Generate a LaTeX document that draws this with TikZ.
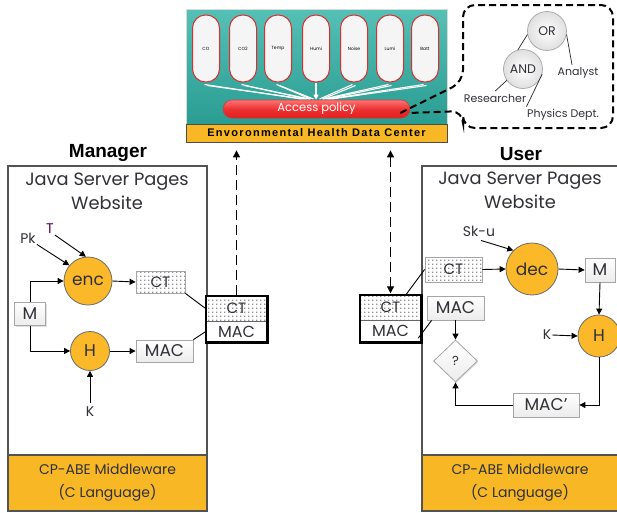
\documentclass[tikz,border=0pt]{standalone}
\usepackage{fontspec}
\setmainfont{Poppins}
\newfontfamily\arialb{Liberation Sans}
\newfontfamily\arialwide[LetterSpace=12]{Liberation Sans}
\usetikzlibrary{arrows.meta,shapes.geometric,patterns,shadows,calc}
\pgfdeclarepatternformonly{bigdots}{\pgfpointorigin}{\pgfpoint{4pt}{4pt}}{\pgfpoint{4pt}{4pt}}{\pgfpathcircle{\pgfpoint{1pt}{1pt}}{0.75pt}\pgfusepath{fill}}
\definecolor{circfill}{HTML}{FBB829}
\definecolor{ybar}{HTML}{F8B825}
\definecolor{tealA}{HTML}{55C0B6}
\definecolor{tealB}{HTML}{23978C}
\definecolor{txt}{HTML}{303038}
\definecolor{pillred}{HTML}{D83030}
\definecolor{apred}{HTML}{E81C1C}
\begin{document}
\begin{tikzpicture}[x=1pt,y=-1pt,
  circ/.style={circle, draw=gray!85!black, line width=0.8pt, fill=circfill, inner sep=0pt, text=txt},
  gbox/.style={draw=gray!70, top color=white, bottom color=gray!15, line width=0.8pt, inner sep=0pt, text=txt,
    drop shadow={opacity=0.25, shadow xshift=1pt, shadow yshift=-1pt}},
  dotbox/.style={draw=gray!70, line width=0.8pt, preaction={fill=white}, pattern=bigdots, pattern color=black!85, inner sep=0pt, text=txt},
  arr/.style={-{Triangle[length=6pt,width=6pt]}, line width=0.9pt},
  ln/.style={line width=0.9pt},
  panel/.style={draw=gray!65!black, line width=1.1pt, fill=white, inner sep=0pt},
  ybox/.style={draw=gray!65!black, line width=1.1pt, fill=ybar, inner sep=0pt},
  lbl/.style={text=txt, inner sep=1pt},
  pill/.style={draw=pillred, line width=1pt, fill=gray!8, rounded corners=13pt, minimum width=27pt, minimum height=67pt, inner sep=0pt, font=\fontsize{4.5}{5}\selectfont},
  tcirc/.style={circle, draw=gray!70, line width=0.7pt, inner color=white, outer color=gray!25, minimum size=39pt, inner sep=0pt, font=\fontsize{12.5}{14}\selectfont, text=txt},
  tlab/.style={text=txt, inner sep=0.5pt, font=\fontsize{11}{13}\selectfont},
  wl/.style={draw=white, line width=1.1pt},
  callout/.style={line width=2pt, dash pattern=on 7pt off 4pt},
  cmbback/.style={draw=none, fill=white, inner sep=0pt, drop shadow={opacity=0.4, shadow xshift=1.5pt, shadow yshift=-1.5pt, fill=gray}},
]
\useasboundingbox (0,0) rectangle (617,512);

% ---------- Data center ----------
\node[draw=gray!30, line width=1pt, top color=tealA, bottom color=tealB, minimum width=261pt, minimum height=133pt, inner sep=0pt] (dc) at (316.5,75.5) {};
\node[draw=gray!60!black, line width=0.8pt, fill=ybar, minimum width=261pt, minimum height=18pt, inner sep=0pt,
  font=\arialwide\bfseries\fontsize{11}{12}\selectfont] (dcbar) at (316.5,133) {Envoronmental Health Data Center};
\node[pill] (p1) at (206,48.5) {CO};
\node[pill] (p2) at (243,48.5) {CO2};
\node[pill] (p3) at (278,48.5) {Temp};
\node[pill] (p4) at (316,48.5) {Humi};
\node[pill] (p5) at (354,48.5) {Noise};
\node[pill] (p6) at (390,48.5) {Lumi};
\node[pill] (p7) at (425,48.5) {Batt};
\node[draw=gray!50!red, line width=0.6pt, top color=red!55!white, bottom color=apred, middle color=apred!90!white, rounded corners=9pt, minimum width=187pt, minimum height=18pt, inner sep=0pt, text=white, font=\fontsize{11.5}{13}\selectfont] (ap) at (316.5,109) {Access policy};
\coordinate (c1) at (303,99);
\coordinate (c2) at (308,99);
\coordinate (c3) at (312,99);
\coordinate (c5) at (321,99);
\coordinate (c6) at (325,99);
\coordinate (c7) at (330,99);
\foreach \p/\c in {p1/c1,p2/c2,p3/c3,p5/c5,p6/c6,p7/c7}{
  \draw[wl] ($(\p.south)+(-1.5,2)$) -- ($(\c)+(-1.5,0)$);
  \draw[wl] ($(\p.south)+(1.5,3)$) -- ($(\c)+(1.5,0)$);
}
\draw[wl, -{Triangle[length=5pt,width=5pt]}] (p4.south) -- (p4.south |- ap.north);

% ---------- Callout with policy tree ----------
\draw[callout, rounded corners=12pt] ($(ap.east)+(-10,4)$) -- (463,82) -- (463,5) -- (613,5) -- (613,128) -- (463,128) -- (463,111) -- ($(ap.east)+(-2,4)$);
\node[tcirc] (or) at (547,31) {OR};
\node[tcirc] (and) at (523,69) {AND};
\node[tlab] (analyst) at (578,73) {Analyst};
\node[tlab] (res) at (495,98) {Researcher};
\node[tlab] (phys) at (563,115) {Physics Dept.};
\draw[line width=0.7pt, gray!30!black] (or.190) -- (and.105);
\draw[line width=0.7pt, gray!30!black] (or.-10) -- ($(analyst.north)+(-6,-2)$);
\draw[line width=0.7pt, gray!30!black] (and.215) -- ($(res.north)+(0,-2)$);
\draw[line width=0.7pt, gray!30!black] (and.-15) -- ($(phys.north west)+(0,-2)$);

% ---------- Manager ----------
\node[font=\arialb\bfseries\fontsize{19}{22}\selectfont, inner sep=0pt] (mgr) at (108,153) {Manager};
\node[panel, minimum width=199pt, minimum height=345pt] (lpanel) at (107.5,338.5) {};
\node[ybox, minimum width=199pt, minimum height=56pt, align=center, text=txt, font=\fontsize{14}{23}\selectfont] (lmw) at (107.5,483) {CP-ABE Middleware\\(C Language)};
\node[lbl, align=center, font=\fontsize{17.8}{24}\selectfont] (ljsp) at (107,191) {Java Server Pages\\Website};

\node[circ, minimum size=48pt, font=\fontsize{17}{20}\selectfont] (enc) at (88,281) {enc};
\node[circ, minimum size=39pt, font=\fontsize{17}{20}\selectfont] (lh) at (90,351) {H};
\node[gbox, minimum width=31pt, minimum height=23pt, font=\fontsize{17}{20}\selectfont] (lm) at (30,314) {M};
\node[dotbox, minimum width=49pt, minimum height=22pt, font=\fontsize{15}{18}\selectfont] (lct) at (160.5,282) {CT};
\node[gbox, minimum width=57pt, minimum height=22pt, font=\fontsize{17}{20}\selectfont] (lmac) at (164.5,351) {MAC};
\node[lbl, font=\fontsize{14}{16}\selectfont] (pk) at (28,238) {Pk};
\node[lbl, font=\fontsize{14}{16}\selectfont, text=violet!60!black] (t) at (50,229) {T};
\node[lbl, font=\fontsize{14}{16}\selectfont] (lk) at (90,412) {K};

\draw[arr] (pk.south east) -- (enc.140);
\draw[arr] (t.south east) -- (enc.95);
\draw[arr] (lm.north) |- (enc.west);
\draw[arr] (lm.south) |- (lh.west);
\draw[arr] (enc.east) -- (lct.west);
\draw[arr] (lh.east) -- (lmac.west);
\draw[arr] ($(lk.north)+(0,-3)$) -- (lh.south);

% combined box left
\node[cmbback, minimum width=61pt, minimum height=46pt] (lcmb) at (236.5,319) {};
\node[dotbox, draw=none, minimum width=61pt, minimum height=25pt, font=\fontsize{15}{18}\selectfont] (lcct) at (236.5,308.5) {CT};
\node[inner sep=0pt, minimum width=61pt, minimum height=21pt, text=txt, font=\fontsize{16}{18}\selectfont] (lcmac) at (236.5,331.5) {MAC};
\draw[line width=0.8pt, gray!80!black] (lcct.south west) -- (lcct.south east);
\draw[line width=2.6pt] (lcmb.north west) rectangle (lcmb.south east);
\draw[ln] (lct.south east) -- (lcct.west);
\draw[ln] (lmac.north east) -- (lcmac.west);
\draw[line width=1pt, dash pattern=on 10pt off 5pt, -{Triangle[length=7pt,width=7pt]}, shorten >=8pt, shorten <=1.3pt] (lcmb.north) -- (lcmb.north |- dcbar.south);

% ---------- User ----------
\node[font=\arialb\bfseries\fontsize{19}{22}\selectfont, inner sep=0pt] (usr) at (521,154) {User};
\node[panel, minimum width=210pt, minimum height=345pt] (rpanel) at (527,338.5) {};
\node[ybox, minimum width=210pt, minimum height=56pt] (rmwbox) at (527,483) {};
\node[lbl, align=center, font=\fontsize{14}{23}\selectfont] (rmw) at (520,483) {CP-ABE Middleware\\(C Language)};
\node[lbl, align=center, font=\fontsize{17.8}{24}\selectfont] (rjsp) at (520,190) {Java Server Pages\\Website};

\node[circ, minimum size=52pt, font=\fontsize{17}{20}\selectfont] (dec) at (532,269) {dec};
\node[circ, minimum size=42pt, font=\fontsize{17}{20}\selectfont] (rh) at (599,336) {H};
\node[gbox, minimum width=30pt, minimum height=24pt, font=\fontsize{17}{20}\selectfont] (rm) at (600,270) {M};
\node[dotbox, minimum width=57pt, minimum height=25pt, font=\fontsize{15}{18}\selectfont] (rct) at (453.5,269.5) {CT};
\node[gbox, minimum width=57pt, minimum height=24pt, font=\fontsize{17}{20}\selectfont] (rmac) at (455.5,308) {MAC};
\node[gbox, minimum width=66pt, minimum height=24pt, font=\fontsize{17}{20}\selectfont] (macp) at (546,405) {MAC'};
\node[diamond, aspect=1, draw=gray!70, line width=0.8pt, top color=white, bottom color=gray!15, minimum width=44pt, minimum height=42pt, inner sep=0pt, text=txt, font=\fontsize{13}{15}\selectfont,
  drop shadow={opacity=0.25, shadow xshift=1pt, shadow yshift=-1pt}] (dia) at (455.5,361) {?};
\node[lbl, font=\fontsize{14}{16}\selectfont] (sku) at (479,231) {Sk-u};
\node[lbl, font=\fontsize{14}{16}\selectfont] (rk) at (547,335) {K};

\draw[arr] ($(sku.south)+(2,3)$) -- (dec.135);
\draw[arr] (rct.east) -- (dec.west);
\draw[arr] (dec.east) -- (rm.west);
\draw[arr] (rm.south) -- (rh.north);
\draw[arr] (rk.east) -- (rh.west);
\draw[arr] (rh.south) |- (macp.east);
\draw[arr] (macp.west) -| (dia.south);
\draw[arr] (rmac.south) -- (dia.north);

% combined box right
\node[cmbback, minimum width=61pt, minimum height=47pt] (rcmb) at (390.5,318.5) {};
\node[dotbox, draw=none, minimum width=61pt, minimum height=25pt, font=\fontsize{15}{18}\selectfont] (rcct) at (390.5,307.5) {CT};
\node[inner sep=0pt, minimum width=61pt, minimum height=22pt, text=txt, font=\fontsize{16}{18}\selectfont] (rcmac) at (390.5,331) {MAC};
\draw[line width=0.8pt, gray!80!black] (rcct.south west) -- (rcct.south east);
\draw[line width=2.6pt] (rcmb.north west) rectangle (rcmb.south east);
\draw[ln] (rct.west) -- ($(rcmb.north)!0.5!(rcmb.north east)$);
\draw[ln] ($(rmac.south west)+(5,0)$) -- ($(rcmb.south east)+(-3,-4)$);
\draw[line width=1pt, dash pattern=on 10pt off 5pt, {Triangle[length=7pt,width=7pt]}-{Triangle[length=7pt,width=7pt]}, shorten >=8pt, shorten <=1.5pt] (rcmb.north) -- (rcmb.north |- dcbar.south);
\end{tikzpicture}
\end{document}
